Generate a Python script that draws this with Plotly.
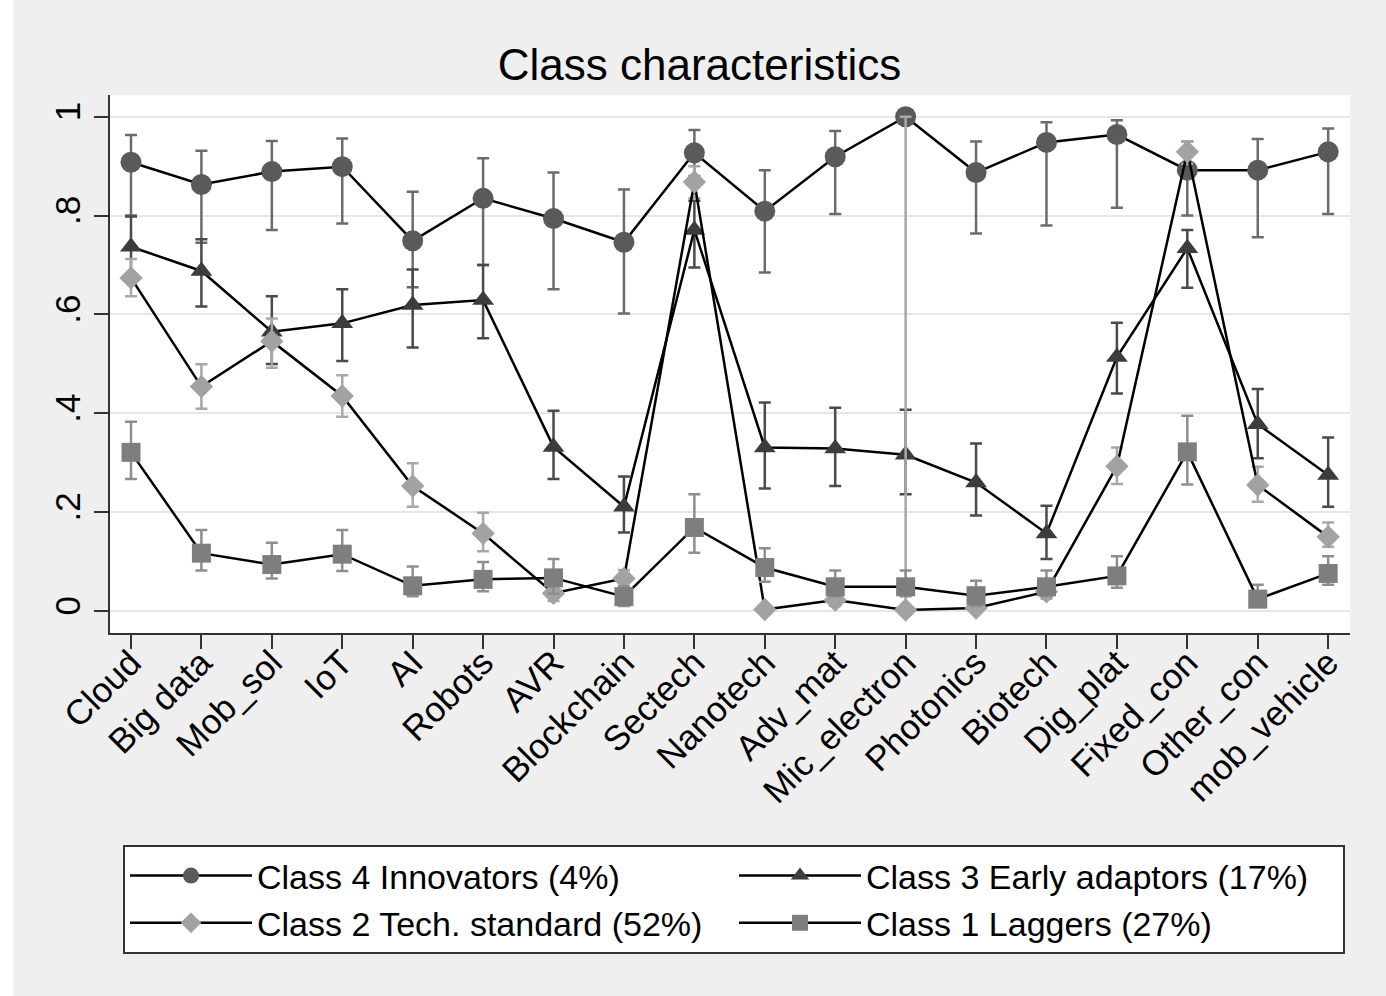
import plotly.graph_objects as go

categories = ["Cloud", "Big data", "Mob_sol", "IoT", "AI", "Robots", "AVR", "Blockchain",
              "Sectech", "Nanotech", "Adv_mat", "Mic_electron", "Photonics", "Biotech",
              "Dig_plat", "Fixed_con", "Other_con", "mob_vehicle"]

# Class 4 Innovators
c4_val = [0.908, 0.863, 0.889, 0.899, 0.749, 0.835, 0.794, 0.746, 0.927, 0.809, 0.919, 1.000,
          0.887, 0.948, 0.964, 0.892, 0.892, 0.929]
c4_lo = [0.800, 0.745, 0.771, 0.784, 0.655, 0.700, 0.651, 0.602, 0.880, 0.685, 0.803, 1.000,
         0.764, 0.780, 0.816, 0.800, 0.756, 0.803]
c4_hi = [0.963, 0.931, 0.951, 0.956, 0.848, 0.916, 0.887, 0.853, 0.973, 0.892, 0.971, 1.000,
         0.950, 0.989, 0.993, 0.950, 0.955, 0.976]

# Class 3 Early adaptors
c3_val = [0.737, 0.688, 0.565, 0.582, 0.619, 0.629, 0.332, 0.211, 0.771, 0.331, 0.329, 0.316,
          0.260, 0.157, 0.514, 0.734, 0.378, 0.275]
c3_lo = [0.680, 0.616, 0.500, 0.506, 0.533, 0.552, 0.267, 0.159, 0.695, 0.248, 0.253, 0.236,
         0.193, 0.105, 0.440, 0.654, 0.309, 0.211]
c3_hi = [0.798, 0.752, 0.637, 0.651, 0.691, 0.700, 0.405, 0.272, 0.830, 0.422, 0.411, 0.407,
         0.339, 0.213, 0.583, 0.771, 0.449, 0.351]

# Class 2 Tech. standard
c2_val = [0.674, 0.454, 0.546, 0.435, 0.253, 0.157, 0.036, 0.066, 0.868, 0.003, 0.022, 0.002,
          0.006, 0.039, 0.293, 0.929, 0.255, 0.150]
c2_lo = [0.637, 0.409, 0.492, 0.393, 0.211, 0.121, 0.020, 0.050, 0.835, 0.000, 0.010, 0.000,
         0.000, 0.025, 0.257, 0.905, 0.221, 0.130]
c2_hi = [0.712, 0.499, 0.592, 0.477, 0.299, 0.199, 0.052, 0.083, 0.900, 0.010, 0.035, 1.000,
         0.015, 0.055, 0.331, 0.950, 0.292, 0.179]

# Class 1 Laggers
c1_val = [0.321, 0.117, 0.094, 0.115, 0.051, 0.064, 0.067, 0.029, 0.169, 0.088, 0.049, 0.049,
          0.031, 0.049, 0.071, 0.322, 0.024, 0.076]
c1_lo = [0.267, 0.082, 0.066, 0.081, 0.030, 0.040, 0.035, 0.010, 0.118, 0.059, 0.030, 0.030,
         0.010, 0.030, 0.047, 0.256, 0.010, 0.053]
c1_hi = [0.383, 0.164, 0.138, 0.164, 0.090, 0.099, 0.105, 0.050, 0.236, 0.127, 0.082, 0.082,
         0.061, 0.082, 0.111, 0.395, 0.053, 0.111]

y_ticks = [0, 0.2, 0.4, 0.6, 0.8, 1.0]
y_ticktext = ["0", ".2", ".4", ".6", ".8", "1"]

series = [
    ("Class 4 Innovators (4%)", c4_val, c4_lo, c4_hi, "circle", 21, "#5a5a5a", "#6b6b6b"),
    ("Class 3 Early adaptors (17%)", c3_val, c3_lo, c3_hi, "triangle-up", 19, "#3c3c3c", "#4a4a4a"),
    ("Class 2 Tech. standard (52%)", c2_val, c2_lo, c2_hi, "diamond", 18, "#a2a2a2", "#a8a8a8"),
    ("Class 1 Laggers (27%)", c1_val, c1_lo, c1_hi, "square", 19, "#7e7e7e", "#8e8e8e"),
]

FONT = "Liberation Sans, Arial, Helvetica, sans-serif"

fig = go.Figure()
for name, val, lo, hi, sym, size, mcol, ecol in series:
    fig.add_trace(go.Scatter(
        x=categories, y=val, name=name, mode="lines+markers",
        line=dict(color="#000000", width=2.5),
        marker=dict(symbol=sym, size=size, color=mcol, line=dict(width=0)),
        error_y=dict(type="data", symmetric=False,
                     array=[h - v for h, v in zip(hi, val)],
                     arrayminus=[v - l for v, l in zip(val, lo)],
                     color=ecol, thickness=2.5, width=6),
    ))

W, H = 1386, 996
L, R, T, B = 110, 36, 95, 363
pw = W - L - R
ph = H - T - B

fig.update_layout(
    width=W, height=H, autosize=False,
    margin=dict(l=L, r=R, t=T, b=B, autoexpand=False),
    paper_bgcolor="#efefef", plot_bgcolor="#ffffff",
    font=dict(family=FONT, size=34, color="#000000"),
    title=dict(text="Class characteristics", x=699.5 / W, xref="container", xanchor="center",
               y=1 - 65 / H, yref="container", yanchor="middle",
               font=dict(size=44, family=FONT, color="#000000")),
    showlegend=True,
    legend=dict(orientation="h", x=(123 - L) / pw, xanchor="left", y=-212 / ph, yanchor="top",
                bgcolor="#ffffff", bordercolor="#333333", borderwidth=2,
                font=dict(size=34, family=FONT), entrywidth=472, itemwidth=122,
                traceorder="normal"),
    xaxis=dict(type="category", categoryorder="array", categoryarray=categories,
               range=[-0.298, 17.31], tickangle=-45, showgrid=False, zeroline=False,
               showline=True, linecolor="#333333", linewidth=2, automargin=False,
               ticks="outside", ticklen=14, tickwidth=2, tickcolor="#333333",
               ticklabelstandoff=-21, tickfont=dict(size=35)),
    yaxis=dict(range=[-0.0445, 1.044], tickvals=y_ticks, ticktext=y_ticktext, tickangle=-90,
               showgrid=True, gridcolor="#e6e6e6", gridwidth=2, zeroline=False,
               showline=True, linecolor="#333333", linewidth=2, automargin=False,
               ticks="outside", ticklen=14, tickwidth=2, tickcolor="#333333",
               tickfont=dict(size=35)),
    shapes=[dict(type="rect", xref="paper", yref="paper", layer="below",
                 x0=-L / pw, x1=(13 - L) / pw, y0=-B / ph, y1=1 + T / ph,
                 fillcolor="#ffffff", line=dict(width=0))],
)

fig.write_html("out.html", config={"displayModeBar": False},
               post_script="document.body.style.margin='0';")
